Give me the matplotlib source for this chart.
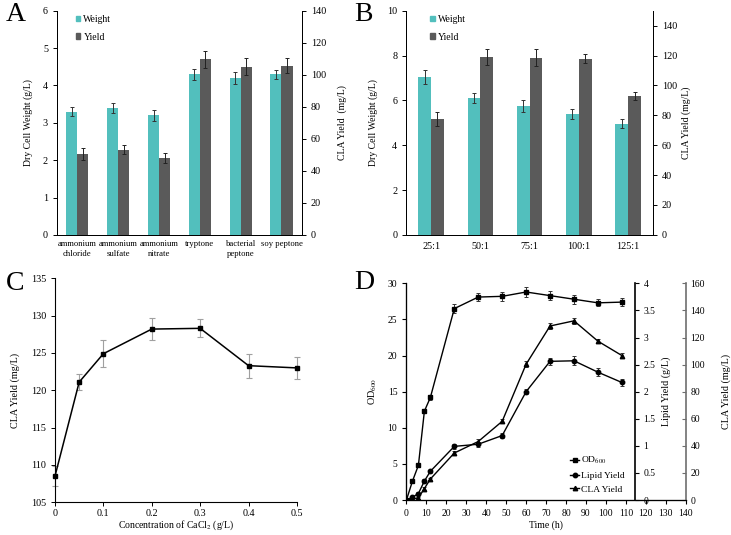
import matplotlib
matplotlib.use("Agg")
import matplotlib.pyplot as plt
import numpy as np
from matplotlib.ticker import FormatStrFormatter

plt.rcParams['font.family'] = ['Liberation Serif', 'DejaVu Serif']
plt.rcParams['mathtext.fontset'] = 'stix'
plt.rcParams['font.size'] = 6.5

# ---------------- Data ----------------
# Panel A
a_categories = ["ammonium\nchloride", "ammonium\nsulfate", "ammonium\nnitrate",
                "tryptone", "bacterial\npeptone", "soy peptone"]
a_weight = [3.3, 3.4, 3.2, 4.3, 4.2, 4.3]
a_weight_err = [0.12, 0.13, 0.15, 0.15, 0.17, 0.12]
a_yield = [50.6, 53.2, 47.8, 109.7, 105.0, 105.7]
a_yield_err = [3.7, 3.0, 3.2, 5.2, 5.2, 4.7]

# Panel B
b_categories = ["25:1", "50:1", "75:1", "100:1", "125:1"]
b_weight = [7.05, 6.1, 5.75, 5.4, 4.95]
b_weight_err = [0.3, 0.22, 0.25, 0.22, 0.2]
b_yield = [77.3, 119.0, 118.6, 118.0, 93.0]
b_yield_err = [4.6, 5.5, 5.5, 3.0, 2.7]

# Panel C
c_conc = [0, 0.05, 0.1, 0.2, 0.3, 0.4, 0.5]
c_yield = [108.5, 121.1, 124.9, 128.2, 128.3, 123.3, 123.0]
c_err = [1.3, 1.1, 1.8, 1.5, 1.2, 1.6, 1.5]

# Panel D
d_time = [0, 3, 6, 9, 12, 24, 36, 48, 60, 72, 84, 96, 108]
d_od = [0, 2.6, 4.8, 12.3, 14.2, 26.5, 28.1, 28.2, 28.8, 28.3, 27.8, 27.3, 27.4]
d_od_err = [0.1, 0.2, 0.2, 0.3, 0.3, 0.6, 0.6, 0.6, 0.7, 0.6, 0.6, 0.5, 0.6]
d_lipid = [0, 0.05, 0.12, 0.35, 0.53, 0.99, 1.03, 1.19, 2.0, 2.56, 2.57, 2.36, 2.17]
d_lipid_err = [0.01, 0.02, 0.02, 0.03, 0.03, 0.05, 0.05, 0.04, 0.05, 0.07, 0.08, 0.07, 0.06]
d_cla = [0, 0.5, 1.6, 8.5, 15.5, 34.7, 43.2, 58.1, 100.3, 128.5, 132.3, 117.3, 106.7]
d_cla_err = [0.3, 0.3, 0.5, 0.8, 1.0, 1.5, 1.5, 1.5, 2.0, 2.0, 2.0, 1.5, 1.5]

teal = '#52BFBD'
gray = '#5A5A5A'

fig = plt.figure(figsize=(7.31, 5.35), dpi=100)

# ---------------- Panel A ----------------
axA = fig.add_axes([0.078, 0.561, 0.335, 0.419])
axA2 = axA.twinx()
x = np.arange(len(a_categories))
w = 0.27
axA.bar(x - w / 2, a_weight, w, color=teal, label='Weight')
axA.errorbar(x - w / 2, a_weight, yerr=a_weight_err, fmt='none', ecolor='#333333',
             elinewidth=0.7, capsize=1.5, capthick=0.7)
axA2.bar(x + w / 2, a_yield, w, color=gray, label='Yield')
axA2.errorbar(x + w / 2, a_yield, yerr=a_yield_err, fmt='none', ecolor='#222222',
              elinewidth=0.7, capsize=1.5, capthick=0.7)
axA.set_xlim(-0.5, len(a_categories) - 0.5)
axA.set_ylim(0, 6)
axA2.set_ylim(0, 140)
axA.set_yticks(range(0, 7))
axA2.set_yticks(range(0, 141, 20))
axA.set_xticks(x)
axA.set_xticklabels(a_categories, fontsize=6.2, linespacing=1.3)
axA.tick_params(axis='x', length=0, pad=4)
axA.set_ylabel('Dry Cell Weight (g/L)', fontsize=7.0, labelpad=7)
axA2.set_ylabel('CLA Yield  (mg/L)', fontsize=7.0, labelpad=8)
for ax in (axA, axA2):
    ax.spines['top'].set_visible(False)
    for s in ax.spines.values():
        s.set_linewidth(0.7)
    ax.tick_params(axis='y', width=0.7, length=3, labelsize=7.3)
hA = [plt.Rectangle((0, 0), 1, 1, color=teal), plt.Rectangle((0, 0), 1, 1, color=gray)]
axA.legend(hA, ['Weight', 'Yield'], loc='upper left', bbox_to_anchor=(0.04, 1.02),
           frameon=False, fontsize=7, handlelength=0.5, handleheight=0.5,
           handletextpad=0.3, labelspacing=0.9)

# ---------------- Panel B ----------------
axB = fig.add_axes([0.556, 0.561, 0.337, 0.419])
axB2 = axB.twinx()
x = np.arange(len(b_categories))
w = 0.26
axB.bar(x - w / 2, b_weight, w, color=teal)
axB.errorbar(x - w / 2, b_weight, yerr=b_weight_err, fmt='none', ecolor='#333333',
             elinewidth=0.7, capsize=1.5, capthick=0.7)
axB2.bar(x + w / 2, b_yield, w, color=gray)
axB2.errorbar(x + w / 2, b_yield, yerr=b_yield_err, fmt='none', ecolor='#222222',
              elinewidth=0.7, capsize=1.5, capthick=0.7)
axB.set_xlim(-0.5, len(b_categories) - 0.5)
axB.set_ylim(0, 10)
axB2.set_ylim(0, 150)
axB.set_yticks(range(0, 11, 2))
axB2.set_yticks(range(0, 141, 20))
axB.set_xticks(x)
axB.set_xticklabels(b_categories, fontsize=7.3)
axB.tick_params(axis='x', length=0, pad=5)
axB.set_ylabel('Dry Cell Weight (g/L)', fontsize=7.0, labelpad=7)
axB2.set_ylabel('CLA Yield (mg/L)', fontsize=7.0, labelpad=3)
for ax in (axB, axB2):
    ax.spines['top'].set_visible(False)
    for s in ax.spines.values():
        s.set_linewidth(0.7)
    ax.tick_params(axis='y', width=0.7, length=3, labelsize=7.3)
axB.legend(hA, ['Weight', 'Yield'], loc='upper left', bbox_to_anchor=(0.06, 1.02),
           frameon=False, fontsize=7, handlelength=0.5, handleheight=0.5,
           handletextpad=0.3, labelspacing=0.9)

# ---------------- Panel C ----------------
axC = fig.add_axes([0.0752, 0.0611, 0.331, 0.4187])
axC.errorbar(c_conc, c_yield, yerr=c_err, fmt='none', ecolor='#A0A0A0',
             elinewidth=0.8, capsize=2, capthick=0.8, clip_on=False)
axC.plot(c_conc, c_yield, '-s', color='black', lw=1.1, ms=2.5, clip_on=False, zorder=3)
axC.set_xlim(0, 0.5)
axC.set_ylim(105, 135)
axC.set_yticks(range(105, 136, 5))
axC.set_xticks(np.arange(0, 0.51, 0.1))
axC.set_xticklabels(['0', '0.1', '0.2', '0.3', '0.4', '0.5'])
axC.set_ylabel('CLA Yield (mg/L)', fontsize=7.3, labelpad=8)
axC.set_xlabel('Concentration of CaCl$_2$ (g/L)', fontsize=7.0, labelpad=0.5)
axC.spines['top'].set_visible(False)
axC.spines['right'].set_visible(False)
for s in axC.spines.values():
    s.set_linewidth(0.8)
axC.tick_params(width=0.7, length=3, labelsize=7.3)
axC.tick_params(axis='x', pad=2)

# ---------------- Panel D ----------------
axD = fig.add_axes([0.556, 0.0654, 0.382, 0.405])
axL = axD.twinx()
axCL = axD.twinx()
axL.spines['right'].set_position(('axes', 0.817))
eb = dict(elinewidth=0.7, capsize=1.5, capthick=0.7, ecolor='#333333')
axD.errorbar(d_time, d_od, yerr=d_od_err, fmt='none', **eb)
lo, = axD.plot(d_time, d_od, '-s', color='black', lw=1.0, ms=3.2)
axL.errorbar(d_time, d_lipid, yerr=d_lipid_err, fmt='none', **eb)
ll, = axL.plot(d_time, d_lipid, '-o', color='black', lw=1.0, ms=3.2)
axCL.errorbar(d_time, d_cla, yerr=d_cla_err, fmt='none', **eb)
lc, = axCL.plot(d_time, d_cla, '-^', color='black', lw=1.0, ms=3.2)
axD.set_xlim(0, 140)
axD.set_xticks(range(0, 141, 10))
axD.set_ylim(0, 30)
axD.set_yticks(range(0, 31, 5))
axL.set_ylim(0, 4)
axL.set_yticks(np.arange(0, 4.01, 0.5))
axL.yaxis.set_major_formatter(FormatStrFormatter('%g'))
axCL.set_ylim(0, 160)
axCL.set_yticks(range(0, 161, 20))
axD.set_xlabel('Time (h)', fontsize=7.0, labelpad=2)
axD.set_ylabel('OD$_{600}$', fontsize=7.3, labelpad=6)
axL.set_ylabel('Lipid Yield (g/L)', fontsize=7.3, labelpad=4)
axCL.set_ylabel('CLA Yield (mg/L)', fontsize=7.3, labelpad=12)
for ax in (axD, axL, axCL):
    ax.spines['top'].set_visible(False)
    ax.tick_params(width=0.8, length=3, labelsize=6.9)
axD.spines['right'].set_visible(False)
axL.spines['right'].set_linewidth(1.2)
axL.spines['right'].set_color('black')
axCL.spines['right'].set_linewidth(1.2)
axCL.spines['right'].set_color('#6E6E6E')
axCL.tick_params(axis='y', direction='in', color='#6E6E6E')
axD.spines['left'].set_linewidth(0.8)
axD.spines['bottom'].set_linewidth(0.8)
axCL.legend([lo, ll, lc], ['OD$_{600}$', 'Lipid Yield', 'CLA Yield'],
            loc='lower left', bbox_to_anchor=(0.555, -0.01), frameon=False,
            fontsize=6.8, handlelength=1.0, handletextpad=0.15, labelspacing=0.55)

# Panel labels
for lbl, xx, yy in [('A', 0.008, 0.973), ('B', 0.485, 0.973), ('C', 0.008, 0.47), ('D', 0.485, 0.472)]:
    fig.text(xx, yy, lbl, fontsize=20, ha='left', va='center')

fig.savefig('out.png', dpi=100)
